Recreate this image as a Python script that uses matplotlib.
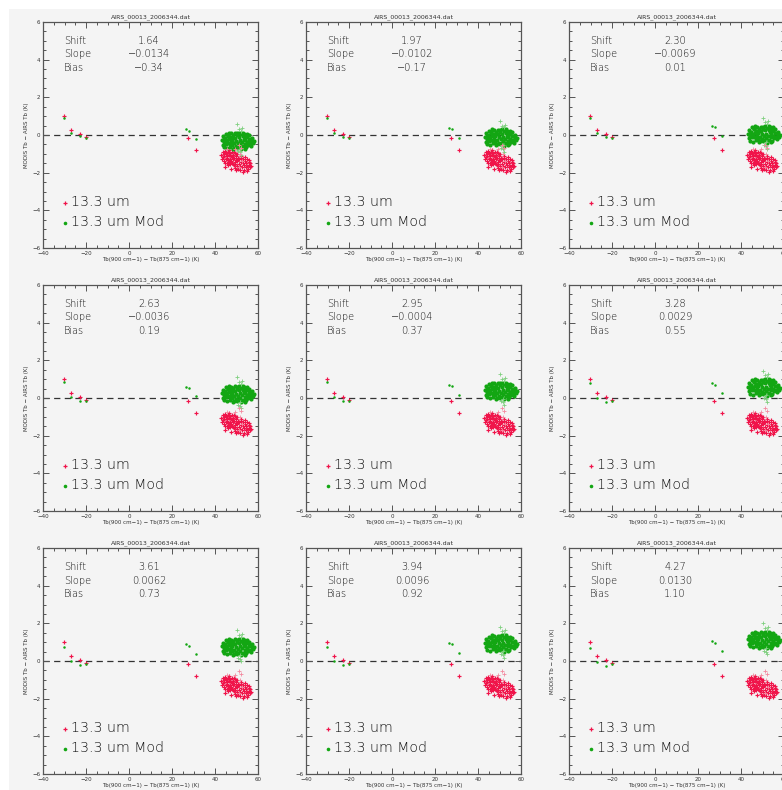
"""3x3 grid of AIRS / MODIS brightness-temperature difference scatter plots."""
import matplotlib
matplotlib.use("Agg")
import matplotlib.pyplot as plt
from matplotlib.patches import Rectangle
from matplotlib.ticker import MultipleLocator, FuncFormatter

# ---------------------------------------------------------------- data
TITLE = "AIRS_00013_2006344.dat"
XLABEL = "Tb(900 cm\u22121) \u2212 Tb(875 cm\u22121) (K)"
YLABEL = "MODIS Tb \u2212 AIRS Tb (K)"

shift = [1.64, 1.97, 2.30, 2.63, 2.95, 3.28, 3.61, 3.94, 4.27]
slope = [-0.0134, -0.0102, -0.0069, -0.0036, -0.0004, 0.0029, 0.0062, 0.0096, 0.0130]
bias = [-0.34, -0.17, 0.01, 0.19, 0.37, 0.55, 0.73, 0.92, 1.10]

# measured 13.3 um differences (same in every panel)
meas_x = [-30.2, -26.8, -22.9, -20.2, 27.3, 31.0,
          43.0, 43.4, 43.8, 44.1, 44.3, 44.7, 44.9, 45.2, 45.4, 45.6,
          45.9, 46.1, 46.3, 46.6, 46.8, 47.0, 47.2, 47.5, 47.7, 47.9,
          48.2, 48.4, 48.6, 48.9, 49.1, 49.4, 49.6, 49.9, 50.2, 50.5,
          43.6, 44.5, 45.0, 45.8, 46.4, 47.3, 48.0, 48.8, 46.0, 44.0,
          48.8, 49.2, 49.5, 49.8, 50.1, 50.4, 50.7, 51.0, 51.3, 51.5,
          51.8, 52.1, 52.3, 52.6, 52.9, 53.2, 53.4, 53.7, 54.0, 54.3,
          54.5, 54.8, 55.1, 55.4, 55.6, 55.9, 56.2, 56.5, 56.8, 53.0,
          51.9, 54.9, 50.6, 53.8, 56.0, 44.5, 47.5]
meas_y = [1.00, 0.28, 0.03, -0.09, -0.18, -0.82,
          -1.05, -1.25, -0.92, -1.38, -1.12, -0.85, -1.30, -1.02, -1.48, -1.20,
          -0.90, -1.35, -1.08, -0.82, -1.52, -1.25, -0.98, -1.40, -1.15, -0.88,
          -1.30, -1.05, -1.55, -1.22, -0.95, -1.42, -1.12, -1.35, -1.00, -1.25,
          -1.15, -1.50, -0.95, -1.10, -1.45, -1.10, -1.48, -0.90, -1.60, -1.00,
          -1.60, -1.75, -1.52, -1.85, -1.65, -1.40, -1.78, -1.55, -1.30, -1.88,
          -1.65, -1.42, -1.20, -1.72, -1.50, -1.28, -1.85, -1.60, -1.38, -1.70,
          -1.48, -1.25, -1.62, -1.80, -1.42, -1.58, -1.70, -1.50, -1.62, -1.95,
          -1.10, -1.90, -1.20, -1.15, -1.35, -1.72, -1.80]
# pale 13.3 um points in the vertical streak
meas_pale_x = [49.5, 51.2, 52.2, 45.5, 51.6, 52.4, 51.0]
meas_pale_y = [-0.75, -0.55, -0.70, -0.72, -1.00, -1.40, -1.70]

# modified 13.3 um cluster: x and offset from the cluster centre
mod_x = [43.2, 43.5, 43.8, 44.1, 44.3, 44.6, 44.9, 45.1, 45.4, 45.6,
         45.9, 46.1, 46.4, 46.6, 46.9, 47.1, 47.4, 47.6, 47.9, 48.1,
         48.4, 48.6, 48.9, 49.1, 49.4, 49.6, 49.9, 50.2, 50.4, 50.7,
         51.0, 51.2, 51.5, 51.7, 52.0, 52.2, 52.5, 52.8, 53.0, 53.3,
         53.5, 53.8, 54.1, 54.3, 54.6, 54.9, 55.1, 55.4, 55.7, 56.0,
         56.2, 56.5, 56.8, 57.1, 57.4, 57.6, 45.0, 46.0, 47.0, 48.0,
         49.0, 50.0, 51.0, 53.0, 54.0, 55.0, 44.0, 58.0]
mod_dy = [0.05, -0.20, 0.25, -0.05, -0.32, 0.15, 0.38, -0.15, 0.05, -0.38,
          0.28, -0.10, 0.45, 0.10, -0.30, 0.20, -0.05, 0.40, -0.22, 0.08,
          0.32, -0.40, -0.12, 0.18, 0.42, -0.25, 0.02, 0.30, -0.35, -0.08,
          0.22, 0.45, -0.18, 0.05, 0.35, -0.42, -0.05, 0.25, -0.28, 0.12,
          0.38, -0.15, 0.05, 0.28, -0.32, -0.05, 0.20, -0.20, 0.08, 0.30,
          -0.12, 0.10, -0.25, 0.02, 0.15, -0.10, 0.00, 0.30, -0.15, 0.15,
          -0.35, 0.40, -0.30, 0.45, -0.40, 0.38, 0.10, 0.00]
mod_pale_x = [50.2, 51.2, 52.0, 51.5, 52.3, 50.8, 52.6, 51.8]
mod_pale_dy = [0.90, 0.65, 0.55, -0.60, -0.75, -0.55, 0.70, -0.40]
# cluster centre
mod_center = [-0.32, -0.15, 0.02, 0.20, 0.37, 0.55, 0.73, 0.92, 1.10]

# isolated modified points, one row per panel
mod_small_x = [-30.2, -27.1, -22.9, -20.2, 26.7, 27.9, 31.0]
mod_small_y = [
    [0.92, 0.09, -0.05, -0.17, 0.30, 0.22, -0.23],
    [0.91, 0.09, -0.08, -0.15, 0.38, 0.30, -0.14],
    [0.90, 0.09, -0.12, -0.14, 0.47, 0.40, -0.05],
    [0.87, 0.07, -0.15, -0.15, 0.60, 0.52, 0.08],
    [0.84, 0.05, -0.17, -0.15, 0.70, 0.62, 0.17],
    [0.80, 0.02, -0.19, -0.16, 0.79, 0.71, 0.26],
    [0.76, 0.00, -0.21, -0.16, 0.88, 0.80, 0.35],
    [0.73, -0.02, -0.23, -0.17, 0.97, 0.89, 0.45],
    [0.70, -0.04, -0.25, -0.17, 1.05, 0.98, 0.54],
]

# ---------------------------------------------------------------- style
W, H = 782, 790
BG = "#f4f4f4"
RED = "#f0144a"
RED_PALE = "#f38aa0"
GREEN = "#13a613"
GREEN_PALE = "#7fcf7f"
INK = "#333333"
TXT = "#111111"   # light-weight text renders paler, so go darker

COL_LEFT = [43, 306, 569]
ROW_TOP = [22, 285, 548]
AX_W, AX_H = 215, 226

fig = plt.figure(figsize=(W / 100, H / 100), dpi=100, facecolor="white")
fig.patches.append(Rectangle((9 / W, 0), 1, 1 - 9 / H, transform=fig.transFigure,
                             facecolor=BG, edgecolor="none", zorder=-10))

minus_fmt = FuncFormatter(lambda v, _: f"{v:.0f}".replace("-", "\u2212"))

for k in range(9):
    r, c = divmod(k, 3)
    left = COL_LEFT[c] / W
    bottom = 1 - (ROW_TOP[r] + AX_H) / H
    ax = fig.add_axes([left, bottom, AX_W / W, AX_H / H])
    ax.set_facecolor(BG)
    ax.set_xlim(-40, 60)
    ax.set_ylim(-6, 6)
    ax.xaxis.set_major_locator(MultipleLocator(20))
    ax.xaxis.set_minor_locator(MultipleLocator(5))
    ax.yaxis.set_major_locator(MultipleLocator(2))
    ax.yaxis.set_minor_locator(MultipleLocator(0.5))
    ax.xaxis.set_major_formatter(minus_fmt)
    ax.yaxis.set_major_formatter(minus_fmt)
    ax.tick_params(which="both", direction="in", top=True, right=True,
                   colors="#555555", labelcolor=INK, labelsize=4, width=0.7, pad=2)
    ax.tick_params(which="major", length=4)
    ax.tick_params(which="minor", length=2)
    for sp in ax.spines.values():
        sp.set_color("#555555")
        sp.set_linewidth(0.9)

    ax.set_title(TITLE, fontsize=4.5, color=INK, pad=3)
    ax.set_xlabel(XLABEL, fontsize=4, color=INK, labelpad=1)
    ax.set_ylabel(YLABEL, fontsize=4, color=INK, labelpad=2)

    ax.axhline(0, color="#333333", lw=0.9, ls=(0, (5, 3.5)), zorder=1)

    # modified points
    gy = [mod_center[k] + d for d in mod_dy]
    ax.plot(mod_x, gy, ls="none", marker="o", ms=3.0, mew=0, color=GREEN, zorder=3)
    gpy = [mod_center[k] + d for d in mod_pale_dy]
    ax.plot(mod_pale_x, gpy, ls="none", marker="+", ms=2.5, mew=0.6,
            color=GREEN_PALE, zorder=4)
    ax.plot(mod_small_x, mod_small_y[k], ls="none", marker="o", ms=1.8, mew=0,
            color=GREEN, zorder=3)

    # measured points
    ax.plot(meas_x, meas_y, ls="none", marker="+", ms=3.3, mew=0.85, color=RED, zorder=2)
    ax.plot(meas_pale_x, meas_pale_y, ls="none", marker="+", ms=2.5, mew=0.6,
            color=RED_PALE, zorder=4)

    # statistics text (pixel offsets from the axes top-left)
    def at(px, py):
        return (px / AX_W, 1 - py / AX_H)

    for i, (name, val) in enumerate([("Shift", f"{shift[k]:.2f}"),
                                     ("Slope", f"{slope[k]:.4f}"),
                                     ("Bias", f"{bias[k]:.2f}")]):
        y = 19 + i * 13.5
        ax.text(*at(21, y), name, transform=ax.transAxes, fontsize=7,
                color=TXT, ha="left", va="center", fontweight="light")
        ax.text(*at(106, y), val.replace("-", "\u2212"), transform=ax.transAxes,
                fontsize=7, color=TXT, ha="center", va="center", fontweight="light")

    # legend
    ax.plot(*at(22, 181), transform=ax.transAxes, marker="+", ms=3.2, mew=0.9,
            color=RED, clip_on=False)
    ax.text(*at(28, 180), "13.3 um", transform=ax.transAxes, fontsize=10.2,
            color=TXT, ha="left", va="center", fontweight="light")
    ax.plot(*at(22, 201), transform=ax.transAxes, marker="o", ms=2.6, mew=0,
            color=GREEN, clip_on=False)
    ax.text(*at(28, 200), "13.3 um Mod", transform=ax.transAxes, fontsize=10.2,
            color=TXT, ha="left", va="center", fontweight="light")

fig.savefig("out.png", dpi=100, facecolor="white")
